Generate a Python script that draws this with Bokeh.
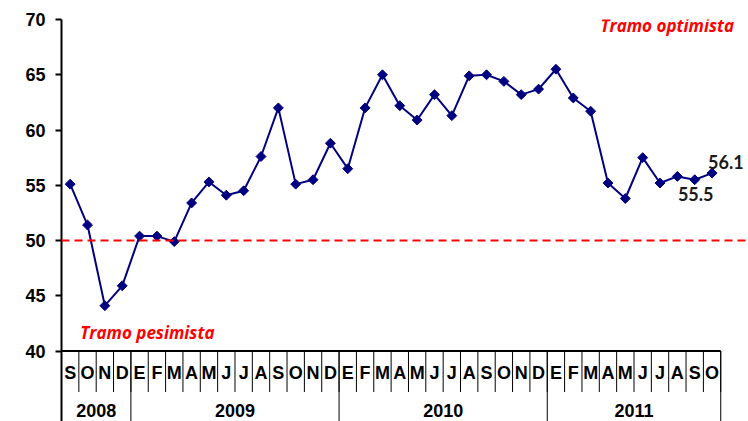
import numpy as np
from bokeh.plotting import figure
from bokeh.models import Range1d, FixedTicker, Span, Label
from bokeh.core.properties import value
from bokeh.embed import file_html
from bokeh.resources import INLINE

# ---- data ----
months = ["S", "O", "N", "D",
          "E", "F", "M", "A", "M", "J", "J", "A", "S", "O", "N", "D",
          "E", "F", "M", "A", "M", "J", "J", "A", "S", "O", "N", "D",
          "E", "F", "M", "A", "M", "J", "J", "A", "S", "O"]
years = ["2008", "2009", "2010", "2011"]
months_per_year = [4, 12, 12, 10]
index_values = [55.1, 51.4, 44.1, 45.9,
                50.4, 50.4, 49.9, 53.4, 55.3, 54.1, 54.5, 57.6, 62.0, 55.1, 55.5, 58.8,
                56.5, 62.0, 65.0, 62.2, 60.9, 63.2, 61.3, 64.9, 65.0, 64.4, 63.2, 63.7,
                65.5, 62.9, 61.7, 55.2, 53.8, 57.5, 55.2, 55.8, 55.5, 56.1]
y_ticks = [40, 45, 50, 55, 60, 65, 70]
threshold = 50
label_optimist = "Tramo optimista"
label_pessimist = "Tramo pesimista"

# ---- layout helpers ----
n = len(months)
x_centers = np.arange(n) + 0.5
y_min_tick = y_ticks[0]
y_bottom = 33.62
month_row_bottom = y_min_tick - 3.71
month_label_y = y_min_tick - 2.02
year_label_y = y_min_tick - 5.37

p = figure(width=748, height=421, output_backend="svg", toolbar_location=None,
           x_range=Range1d(0, 39.6), y_range=Range1d(y_bottom, y_ticks[-1]),
           x_axis_location=None, min_border_left=61, min_border_right=0,
           min_border_top=19, min_border_bottom=0)
p.outline_line_color = None
p.grid.visible = False
p.background_fill_color = "white"

ax = p.yaxis[0]
ax.ticker = FixedTicker(ticks=y_ticks)
ax.axis_line_width = 2
ax.axis_line_color = "black"
ax.major_tick_line_width = 2
ax.major_tick_out = 6
ax.major_tick_in = 0
ax.minor_tick_line_color = None
ax.major_label_standoff = 10
ax.major_label_text_font = "Liberation Sans"
ax.major_label_text_font_style = "bold"
ax.major_label_text_font_size = "18px"
ax.major_label_text_color = "black"

# threshold line
p.add_layout(Span(location=threshold, dimension="width", line_color="red",
                  line_dash="8 5", line_width=2))

# category table under the plot
p.segment(x0=[0], y0=[y_min_tick], x1=[n], y1=[y_min_tick], line_color="black", line_width=2)
bounds = np.arange(n + 1)
p.segment(x0=bounds, y0=[y_min_tick] * (n + 1), x1=bounds, y1=[month_row_bottom] * (n + 1),
          line_color="black", line_width=1)
year_bounds = np.concatenate([[0], np.cumsum(months_per_year)])
p.segment(x0=year_bounds, y0=[y_min_tick] * len(year_bounds), x1=year_bounds,
          y1=[y_bottom] * len(year_bounds), line_color="black", line_width=1)
p.text(x=x_centers, y=[month_label_y] * n, text=months, text_align="center",
       text_baseline="middle", text_font=value("Liberation Sans"), text_font_style="bold",
       text_font_size="18px", text_color="black")
year_centers = year_bounds[:-1] + np.array(months_per_year) / 2
p.text(x=year_centers, y=[year_label_y] * len(years), text=years, text_align="center",
       text_baseline="middle", text_font=value("Liberation Sans"), text_font_style="bold",
       text_font_size="18px", text_color="black")

# series
p.line(x_centers, index_values, line_color="#000080", line_width=2)
p.scatter(x_centers, index_values, marker="square", angle=np.pi / 4, size=7,
          fill_color="#000080", line_color="#000080")

# value labels for the last two points
p.add_layout(Label(x=x_centers[-1], y=index_values[-1], text=f"{index_values[-1]:.1f}",
                   x_offset=-4, y_offset=11, text_align="left", text_baseline="middle",
                   text_font="Lato", text_font_style="bold", text_font_size="18px",
                   text_color="#1a1a1a"))
p.add_layout(Label(x=x_centers[-2], y=index_values[-2], text=f"{index_values[-2]:.1f}",
                   x_offset=1, y_offset=-14, text_align="center", text_baseline="middle",
                   text_font="Lato", text_font_style="bold", text_font_size="18px",
                   text_color="#1a1a1a"))

# zone labels
p.add_layout(Label(x=38.77, y=69.48, text=label_optimist, text_align="right",
                   text_baseline="middle", text_font="Open Sans", text_font_style="bold italic",
                   text_font_size="17px", text_color="red"))
p.add_layout(Label(x=1.08, y=41.7, text=label_pessimist, text_align="left",
                   text_baseline="middle", text_font="Open Sans", text_font_style="bold italic",
                   text_font_size="17px", text_color="red"))

open("out.html", "w").write(file_html(p, INLINE))
